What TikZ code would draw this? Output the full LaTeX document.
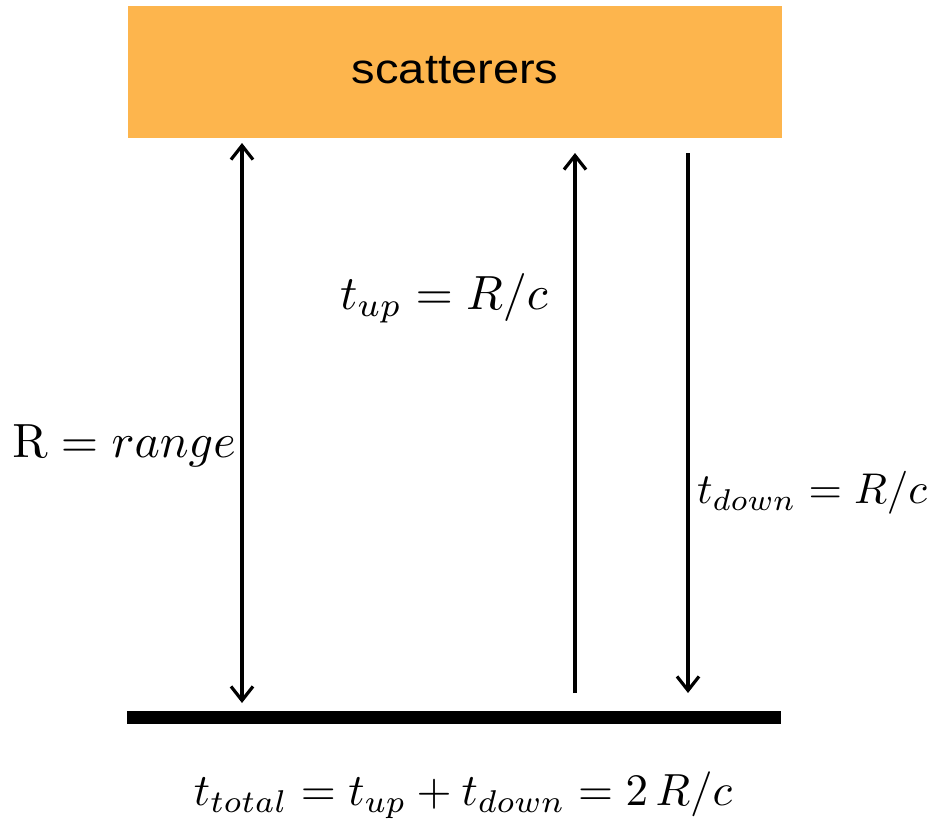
\documentclass[tikz,border=0pt]{standalone}
\usepackage[no-math]{fontspec}
\newfontfamily\arialfont{Liberation Sans}
\usetikzlibrary{arrows.meta}
\definecolor{boxorange}{RGB}{253,181,77}
\newcommand{\bigmath}[2][4.8]{\scalebox{#1}{$#2$}}
\tikzset{
  sig/.style={line width=3.2pt, -{Straight Barb[length=14pt,width=22pt,line width=3.2pt]}},
  sigboth/.style={line width=3.2pt, {Straight Barb[length=14pt,width=22pt,line width=3.2pt]}-{Straight Barb[length=14pt,width=22pt,line width=3.2pt]}},
  lbl/.style={inner sep=0pt}
}
\begin{document}
\begin{tikzpicture}[x=1pt,y=-1pt]
\useasboundingbox (0,0) rectangle (947,822);
\node[fill=boxorange, minimum width=654pt, minimum height=132pt, inner sep=0pt, anchor=north west,
  font=\arialfont\fontsize{42}{50}\selectfont] (scat) at (128,6) {\raisebox{4pt}{\scalebox{1.12}[1]{scatterers}}};
\node[fill=black, minimum width=654pt, minimum height=13pt, inner sep=0pt, anchor=north west] (ground) at (127,711) {};
\coordinate (rtop) at (242,143);
\coordinate (rbot) at (242,703);
\coordinate (utop) at (575,153);
\coordinate (ubot) at (575,693);
\coordinate (dtop) at (688,153);
\coordinate (dbot) at (688,693);
\draw[sigboth] (rtop) -- (rbot);
\draw[sig] (ubot) -- (utop);
\draw[sig] (dtop) -- (dbot);
\node[lbl, anchor=east] (lrange) at (236,446) {\bigmath{\mathrm{R} = range}};
\node[lbl, anchor=east] (lup) at (548,298) {\bigmath{t_{up} = R/c}};
\node[lbl, anchor=west] (ldown) at (697,493) {\bigmath[4.3]{t_{down} = R/c}};
\node[lbl] (ltotal) at (463,795) {\bigmath[4.5]{t_{total} = t_{up} + t_{down} = 2\,R/c}};
\end{tikzpicture}
\end{document}
